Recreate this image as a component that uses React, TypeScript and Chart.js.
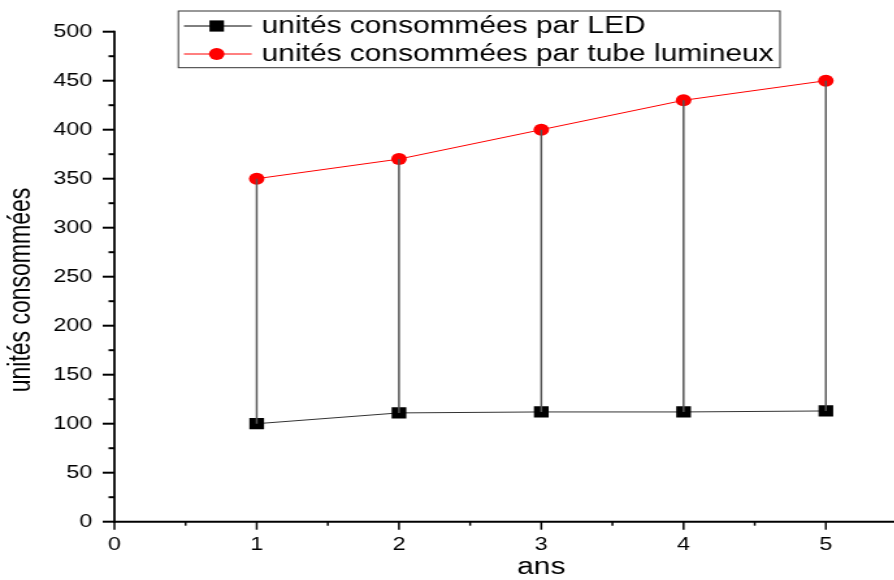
import React, { useEffect, useRef } from "react";
import { Chart, registerables } from "chart.js";

Chart.register(...registerables);

// ---- data ----
const years = [1, 2, 3, 4, 5];
const ledUnits = [100, 111, 112, 112, 113];
const tubeUnits = [350, 370, 400, 430, 450];
const xTickValues = [0, 1, 2, 3, 4, 5];
const xMinorTicks = [0.5, 1.5, 2.5, 3.5, 4.5, 5.5];
const yMinorTicks = [25, 75, 125, 175, 225, 275, 325, 375, 425, 475];
const ledLabel = "unités consommées par LED";
const tubeLabel = "unités consommées par tube lumineux";
const xTitle = "ans";
const yTitle = "unités consommées";

// ---- layout ----
const STRETCH = 1.3;
const W = 690;
const H = 580;
const FONT = "'Liberation Sans', Arial, Helvetica, sans-serif";

const decorPlugin = {
  id: "decor",
  afterDraw(chart: any) {
    const ctx = chart.ctx as CanvasRenderingContext2D;
    const xs = chart.scales.x;
    const ys = chart.scales.y;
    const left = xs.getPixelForValue(0);
    const bottom = ys.getPixelForValue(0);
    const top = ys.getPixelForValue(500);
    ctx.save();
    ctx.strokeStyle = "#000";
    // axis lines
    ctx.lineWidth = 1.8;
    ctx.beginPath();
    ctx.moveTo(left, bottom + 1);
    ctx.lineTo(left, top - 1);
    ctx.stroke();
    ctx.lineWidth = 2;
    ctx.beginPath();
    ctx.moveTo(left - 1, bottom);
    ctx.lineTo(chart.width, bottom);
    ctx.stroke();
    // y ticks
    ctx.lineWidth = 2;
    ys.ticks.forEach((t: any) => {
      const y = ys.getPixelForValue(t.value);
      ctx.beginPath();
      ctx.moveTo(left - 9, y);
      ctx.lineTo(left, y);
      ctx.stroke();
    });
    yMinorTicks.forEach((v) => {
      const y = ys.getPixelForValue(v);
      ctx.beginPath();
      ctx.moveTo(left - 4.5, y);
      ctx.lineTo(left, y);
      ctx.stroke();
    });
    // x ticks
    ctx.lineWidth = 1.5;
    xTickValues.forEach((v) => {
      const x = xs.getPixelForValue(v);
      ctx.beginPath();
      ctx.moveTo(x, bottom);
      ctx.lineTo(x, bottom + 8);
      ctx.stroke();
    });
    xMinorTicks.forEach((v) => {
      const x = xs.getPixelForValue(v);
      ctx.beginPath();
      ctx.moveTo(x, bottom);
      ctx.lineTo(x, bottom + 4);
      ctx.stroke();
    });
    // axis titles
    ctx.fillStyle = "#000";
    ctx.font = `23px ${FONT}`;
    ctx.textAlign = "center";
    ctx.textBaseline = "middle";
    ctx.fillText(xTitle, xs.getPixelForValue(3), 568);
    ctx.save();
    ctx.translate(17, 290);
    ctx.rotate(-Math.PI / 2);
    ctx.fillText(yTitle, 0, 0);
    ctx.restore();
    // legend
    const bx = 137.2, by = 11, bw = 462.8, bh = 56.7;
    ctx.lineWidth = 1;
    ctx.strokeStyle = "#333";
    ctx.strokeRect(bx, by, bw, bh);
    const rows = [
      { y: 26, color: "#000", label: ledLabel, shape: "rect" },
      { y: 54, color: "#ff0000", label: tubeLabel, shape: "circle" },
    ];
    rows.forEach((r) => {
      ctx.strokeStyle = r.color;
      ctx.fillStyle = r.color;
      ctx.lineWidth = 1;
      ctx.beginPath();
      ctx.moveTo(141.5, r.y);
      ctx.lineTo(193.6, r.y);
      ctx.stroke();
      if (r.shape === "rect") {
        ctx.fillRect(166.7 - 5.6, r.y - 5.6, 11.2, 11.2);
      } else {
        ctx.beginPath();
        ctx.arc(166.7, r.y, 6, 0, Math.PI * 2);
        ctx.fill();
      }
      ctx.fillStyle = "#000";
      ctx.textAlign = "left";
      ctx.textBaseline = "middle";
      ctx.fillText(r.label, 201.3, r.y + 1);
    });
    ctx.restore();
  },
};

export default function App() {
  const ref = useRef<HTMLCanvasElement | null>(null);
  useEffect(() => {
    if (!ref.current) return;
    Chart.defaults.font.family = FONT;
    Chart.defaults.color = "#000";
    const dropData: any[] = [];
    years.forEach((x, i) => {
      dropData.push({ x, y: tubeUnits[i] });
      dropData.push({ x, y: ledUnits[i] });
      dropData.push({ x, y: null });
    });
    const chart = new Chart(ref.current, {
      type: "line",
      data: {
        datasets: [
          {
            label: "drop",
            data: dropData,
            borderColor: "#555",
            borderWidth: 1.5,
            pointRadius: 0,
            spanGaps: false,
            order: 1,
          },
          {
            label: ledLabel,
            data: years.map((x, i) => ({ x, y: ledUnits[i] })),
            borderColor: "#333",
            borderWidth: 1,
            backgroundColor: "#000",
            pointBackgroundColor: "#000",
            pointBorderWidth: 0,
            pointStyle: "rect",
            pointRadius: 8,
            order: 2,
          },
          {
            label: tubeLabel,
            data: years.map((x, i) => ({ x, y: tubeUnits[i] })),
            borderColor: "#ff0000",
            borderWidth: 1,
            backgroundColor: "#ff0000",
            pointBackgroundColor: "#ff0000",
            pointBorderWidth: 0,
            pointStyle: "circle",
            pointRadius: 6,
            order: 3,
          },
        ],
      },
      options: {
        responsive: false,
        animation: false,
        devicePixelRatio: 1,
        layout: { autoPadding: false, padding: { top: 31.7, left: 0, right: 0, bottom: 0 } },
        plugins: { legend: { display: false }, tooltip: { enabled: false } },
        scales: {
          x: {
            type: "linear",
            min: 0,
            max: 5.5,
            afterBuildTicks: (scale: any) => {
              scale.ticks = xTickValues.map((v) => ({ value: v }));
            },
            afterFit: (scale: any) => {
              scale.height = H - 521.7;
              scale.paddingLeft = 0;
              scale.paddingRight = 0;
            },
            grid: { display: false, drawTicks: false },
            border: { display: false },
            ticks: { font: { size: 18 }, padding: 13, color: "#000", maxRotation: 0, autoSkip: false },
          },
          y: {
            type: "linear",
            min: 0,
            max: 500,
            afterFit: (scale: any) => {
              scale.width = 88;
              scale.paddingTop = 0;
              scale.paddingBottom = 0;
            },
            grid: { display: false, drawTicks: false },
            border: { display: false },
            ticks: { stepSize: 50, font: { size: 18 }, padding: 17, color: "#000" },
          },
        },
      },
      plugins: [decorPlugin],
    } as any);
    return () => chart.destroy();
  }, []);
  return (
    <div style={{ position: "absolute", left: 0, top: 0, width: 894, height: 580, overflow: "hidden", background: "#fff" }}>
      <canvas
        ref={ref}
        width={W}
        height={H}
        style={{ width: W, height: H, display: "block", transform: `scaleX(${STRETCH})`, transformOrigin: "0 0" }}
      />
    </div>
  );
}
